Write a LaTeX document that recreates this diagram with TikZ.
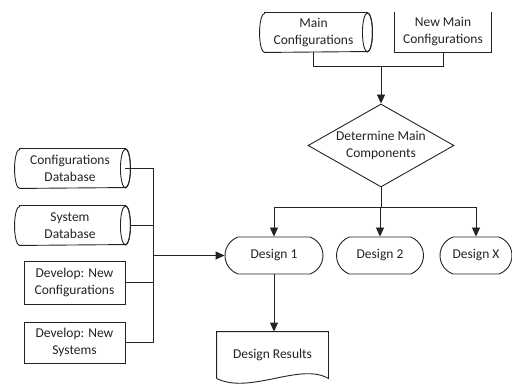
\documentclass[tikz,border=0pt]{standalone}
\usepackage{fontspec}
\setmainfont{Carlito}
\usetikzlibrary{shapes.geometric,shapes.misc,arrows.meta}
\definecolor{ink}{RGB}{35,35,35}
\newcommand{\cylbody}[1]{%
  \draw ([xshift=5pt]#1.north west) -- (#1.north east)
     arc[start angle=90,end angle=-90,x radius=5pt,y radius=19.5pt]
     -- ([xshift=5pt]#1.south west)
     arc[start angle=270,end angle=90,x radius=5pt,y radius=19.5pt] -- cycle;
  \draw (#1.east) ellipse [x radius=5pt,y radius=19.5pt];}
\begin{document}
\begin{tikzpicture}[x=1pt,y=1pt,color=ink,line width=0.9pt,
  txt/.style={font=\fontsize{13.5}{17}\selectfont,text=ink,align=center,inner sep=0pt},
  cylbox/.style={txt,minimum height=39pt},
  procbox/.style={txt,draw=ink,rectangle},
  term/.style={txt,draw=ink,rounded rectangle,rounded rectangle arc length=140,minimum height=37pt},
  arr/.style={-{Triangle[length=9pt,width=8pt]}}]
\clip (0,0) rectangle (512,-385);
% top inputs
\node[cylbox,minimum width=107pt] (mc) at (313.5,-32.5) {Main\\Configurations};
\cylbody{mc}
\node[txt,minimum width=96pt,minimum height=40pt] (nm) at (443,-32) {New Main\\Configurations};
\draw (nm.north west) -- (nm.south west) -- (nm.south east) -- (nm.north east);
% decision
\node[diamond,draw=ink,minimum width=146pt,minimum height=83pt,aspect=1.76,inner sep=0pt] (dm) at (381,-145.5) {};
\node[txt] (dmt) at (dm.center) {Determine Main\\Components};
\coordinate (j1) at (381,-66.5);
\draw (mc.south) |- (j1) -| (nm.south);
\draw[arr] (j1) -- (dm.north);
% designs
\node[term,minimum width=98pt] (d1) at (274,-255.5) {Design 1};
\node[term,minimum width=87pt] (d2) at (380,-255.5) {Design 2};
\node[term,minimum width=72pt] (dx) at (476,-255.5) {Design X};
\coordinate (j2) at (381,-207);
\draw (dm.south) -- (j2);
\draw (d1.north |- j2) -- (dx.north |- j2);
\draw[arr] (d1.north |- j2) -- (d1.north);
\draw[arr] (d2.north |- j2) -- (d2.north);
\draw[arr] (dx.north |- j2) -- (dx.north);
% results
\node[txt,minimum width=111pt,minimum height=46pt] (dr) at (272.5,-355) {Design Results};
\draw (dr.south west) -- (dr.north west) -- (dr.north east) -- (dr.south east)
  .. controls (300,-362) and (250,-395) .. (dr.south west);
\draw[arr] (d1.south) -- (d1.south |- dr.north);
% left inputs
\node[cylbox,minimum width=110pt] (cd) at (70,-168.5) {Configurations\\Database};
\cylbody{cd}
\node[cylbox,minimum width=110pt] (sd) at (70,-225.5) {System\\Database};
\cylbody{sd}
\node[procbox,minimum width=101pt,minimum height=43pt] (dnc) at (74.5,-282.5) {Develop: New\\Configurations};
\node[procbox,minimum width=101pt,minimum height=41pt] (dns) at (74.5,-342.5) {Develop: New\\Systems};
\coordinate (bt) at (153,-168.5);
\coordinate (bb) at (153,-342.5);
\draw (cd.east) -- (bt) -- (bb) -- (dns.east);
\draw ([xshift=5pt]sd.east) -- (sd.east -| bt);
\draw (dnc.east) -- (dnc.east -| bt);
\draw[arr] (bt |- d1.west) -- (d1.west);
\end{tikzpicture}
\end{document}
